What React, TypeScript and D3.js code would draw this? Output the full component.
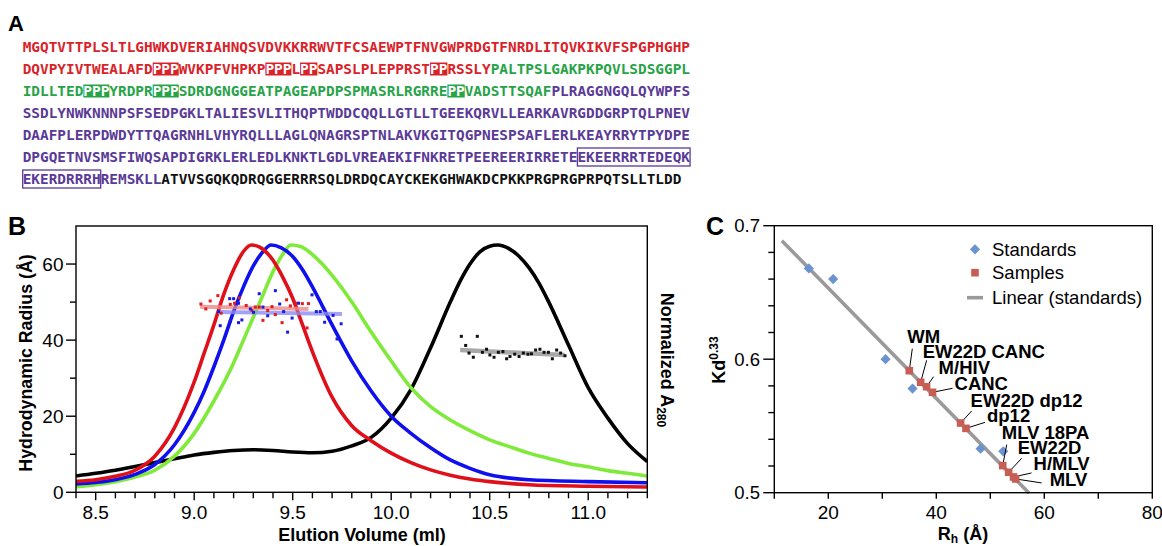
import React from 'react';
import * as d3 from 'd3';

// ---- Panel A: sequence (segments: text + style code) ----
// r/g/p/k = red/green/purple/black text, R/G = filled highlight, B = purple boxed
const seqLines: [string, string][][] = [
  [['MGQTVTTPLSLTLGHWKDVERIAHNQSVDVKKRRWVTFCSAEWPTFNVGWPRDGTFNRDLITQVKIKVFSPGPHGHP', 'r']],
  [['DQVPYIVTWEALAFD', 'r'], ['PPP', 'R'], ['WVKPFVHPKP', 'r'], ['PPP', 'R'], ['L', 'r'], ['PP', 'R'],
   ['SAPSLPLEPPRST', 'r'], ['PP', 'R'], ['RSSLY', 'r'], ['PALTPSLGAKPKPQVLSDSGGPL', 'g']],
  [['IDLLTED', 'g'], ['PPP', 'G'], ['YRDPR', 'g'], ['PPP', 'G'], ['SDRDGNGGEATPAGEAPDPSPMASRLRGRRE', 'g'],
   ['PP', 'G'], ['VADSTTSQAF', 'g'], ['PLRAGGNGQLQYWPFS', 'p']],
  [['SSDLYNWKNNNPSFSEDPGKLTALIESVLITHQPTWDDCQQLLGTLLTGEEKQRVLLEARKAVRGDDGRPTQLPNEV', 'p']],
  [['DAAFPLERPDWDYTTQAGRNHLVHYRQLLLAGLQNAGRSPTNLAKVKGITQGPNESPSAFLERLKEAYRRYTPYDPE', 'p']],
  [['DPGQETNVSMSFIWQSAPDIGRKLERLEDLKNKTLGDLVREAEKIFNKRETPEEREERIRRETE', 'p'], ['EKEERRRTEDEQK', 'B']],
  [['EKERDRRRH', 'B'], ['REMSKLL', 'p'], ['ATVVSGQKQDRQGGERRRSQLDRDQCAYCKEKGHWAKDCPKKPRGPRGPRPQTSLLTLDD', 'k']],
];

// ---- Panel B: elution profiles [ml, value] ----
const redCurve = [[8.4,2.9],[8.5,3.3],[8.6,4.2],[8.7,5.8],[8.8,9.5],[8.9,17],[9.0,29],[9.05,36.5],[9.1,44],[9.15,52],[9.2,58.5],[9.25,63.3],[9.29,65],[9.33,64.5],[9.4,61],[9.45,56.5],[9.5,51],[9.55,44],[9.6,37],[9.7,25],[9.8,17.5],[9.9,13.5],[10.0,10.3],[10.1,7.8],[10.2,5.9],[10.3,4.5],[10.4,3.5],[10.5,2.8],[10.7,2.0],[11.0,1.6],[11.3,1.4]];
const blueCurve = [[8.4,2.2],[8.5,2.6],[8.6,3.3],[8.7,4.7],[8.8,7.3],[8.9,12.5],[9.0,21],[9.05,26.5],[9.1,33],[9.15,40],[9.2,47.5],[9.25,54],[9.3,59.5],[9.35,63.3],[9.39,65],[9.44,64.3],[9.5,62],[9.55,58.5],[9.6,54],[9.7,44],[9.8,34.5],[9.9,26.5],[10.0,20],[10.1,15.5],[10.2,11.7],[10.3,8.5],[10.4,6.3],[10.5,4.6],[10.7,3.3],[11.0,2.8],[11.3,2.5]];
const greenCurve = [[8.4,1.5],[8.5,2.0],[8.6,2.8],[8.7,4.0],[8.8,5.8],[8.9,9.5],[9.0,15.5],[9.1,24],[9.2,34],[9.25,40],[9.3,46],[9.35,52],[9.4,58],[9.45,62.6],[9.49,65],[9.54,64.6],[9.6,62.5],[9.65,60],[9.7,57],[9.8,50],[9.9,42],[10.0,34.5],[10.1,27.5],[10.2,22.5],[10.3,19],[10.4,16.2],[10.5,13.8],[10.6,12],[10.7,10.3],[10.8,8.9],[10.9,7.6],[11.0,6.7],[11.1,5.7],[11.2,5.0],[11.3,4.3]];
const blackCurve = [[8.4,4.3],[8.5,5.0],[8.6,5.8],[8.7,6.8],[8.8,7.8],[8.9,8.8],[9.0,9.8],[9.1,10.5],[9.2,11.0],[9.3,11.2],[9.4,11.0],[9.5,10.6],[9.6,10.4],[9.7,10.8],[9.8,12.2],[9.9,14.5],[10.0,19.5],[10.1,27],[10.2,38],[10.3,50],[10.35,55.5],[10.4,60],[10.45,63.2],[10.5,64.7],[10.54,65],[10.6,64],[10.65,62],[10.7,59],[10.75,55],[10.8,50],[10.9,38.7],[11.0,27.5],[11.1,19.5],[11.2,12.8],[11.3,8.1]];

// radius points [ml, Å]
const redDots = [[9.034,49.5],[9.059,48.2],[9.081,50.3],[9.12,51.7],[9.137,47.1],[9.183,49.4],[9.205,49.7],[9.229,51.1],[9.264,49.1],[9.293,47.8],[9.31,48.7],[9.33,48.7],[9.349,45.2],[9.373,47.8],[9.395,48.8],[9.412,46.7],[9.446,44.6],[9.469,50.6],[9.488,49.0],[9.518,49.7],[9.549,49.6],[9.573,43.2],[9.58,49.6]];
const blueDots = [[9.124,47.5],[9.132,43.8],[9.18,50.9],[9.183,44.9],[9.2,50.9],[9.225,49.7],[9.225,44.6],[9.242,45.3],[9.285,48.2],[9.301,47.3],[9.33,52.2],[9.349,48.7],[9.373,46.4],[9.412,53.0],[9.434,49.5],[9.454,47.5],[9.474,42.1],[9.497,45.8],[9.53,49.7],[9.598,51.9],[9.62,47.5],[9.64,47.5],[9.662,44.7],[9.705,46.5],[9.725,40.3],[9.746,44.3]];
const blackDots = [[10.356,41.0],[10.378,38.6],[10.395,36.6],[10.417,35.5],[10.437,41.0],[10.463,36.8],[10.484,37.6],[10.501,36.1],[10.522,35.5],[10.544,36.8],[10.567,37.0],[10.586,35.1],[10.603,35.7],[10.627,36.3],[10.649,35.7],[10.671,36.6],[10.694,36.3],[10.712,36.4],[10.733,37.4],[10.755,37.6],[10.776,36.8],[10.798,36.8],[10.818,35.1],[10.84,37.4],[10.86,36.6],[10.882,35.9]];
const redFit = [[9.03,48.8],[9.58,48.2]];
const blueFit = [[9.12,47.4],[9.75,46.9]];
const blackFit = [[10.35,37.4],[10.88,36.1]];

const bMajorX = [8.5, 9.0, 9.5, 10.0, 10.5, 11.0];
const bMinorX = [8.4, 8.6, 8.7, 8.8, 8.9, 9.1, 9.2, 9.3, 9.4, 9.6, 9.7, 9.8, 9.9, 10.1, 10.2, 10.3, 10.4, 10.6, 10.7, 10.8, 10.9, 11.1, 11.2, 11.3];
const bMajorY = [0, 20, 40, 60];
const bMinorY = [10, 30, 50];

// ---- Panel C: calibration ----
const stdRh = [16.4, 20.9, 30.6, 35.6, 48.2, 52.4];
const stdKd = [0.668, 0.660, 0.600, 0.578, 0.533, 0.531];
const sampleNames = ['WM', 'EW22D CANC', 'M/HIV', 'CANC', 'EW22D dp12', 'dp12', 'MLV 18PA', 'EW22D', 'H/MLV', 'MLV'];
const sampleRh = [35.0, 37.1, 38.2, 39.3, 44.5, 45.5, 52.3, 53.4, 54.3, 54.7];
const sampleKd = [0.5914, 0.5827, 0.5794, 0.5752, 0.5522, 0.5482, 0.5203, 0.5153, 0.5118, 0.5103];
const fitRh = [11.4, 57.2];
const fitKd = [0.6888, 0.4996];
const cMajorX = [20, 40, 60, 80];
const cMinorX = [10, 30, 50, 70];
const cMajorY = [0.5, 0.6, 0.7];
const cMinorY = [0.52, 0.54, 0.56, 0.58, 0.62, 0.64, 0.66, 0.68];

// label placement relative to marker: [textDx, textDy, leaderDx, leaderDy]
const labelPlace = [
  [-2, -28, 3, -22], [2, -24, 6, -22], [12, -13, 7, -10], [22, -2, 20, -4], [10, -16, 11, -12],
  [21, -6, 19, -6], [-1, -27, 4, -21], [9, -18, 13, -14], [20, -7, 18, -4], [34, 7, 26, 4],
];

const SANS = "'Liberation Sans', Arial, Helvetica, sans-serif";
const MONO = "'DejaVu Sans Mono', 'Liberation Mono', monospace";
const colText: Record<string, string> = { r: '#d8232a', g: '#27a348', p: '#5a3a97', k: '#111' };

function SequencePanel() {
  const x0 = 22.7, cw = 8.667, base0 = 52, lh = 22;
  const out: React.ReactNode[] = [];
  seqLines.forEach((segs, li) => {
    const by = base0 + li * lh;
    let pos = 0;
    segs.forEach(([txt, st], si) => {
      const x = x0 + pos * cw;
      const w = txt.length * cw;
      let fill = colText[st.toLowerCase()] || '#111';
      if (st === 'R' || st === 'G') {
        out.push(<rect key={`b${li}-${si}`} x={x} y={by - 11.5} width={w} height={13} fill={colText[st.toLowerCase()]} />);
        fill = '#fff';
      }
      if (st === 'B') {
        fill = colText.p;
        out.push(<rect key={`o${li}-${si}`} x={x} y={by - 14} width={w} height={18} fill="none" stroke={colText.p} strokeWidth={1.3} />);
      }
      out.push(
        <text key={`t${li}-${si}`} x={x} y={by} fill={fill} fontFamily={MONO} fontWeight="bold" fontSize={14.4}
          textLength={w} lengthAdjust="spacingAndGlyphs">{txt}</text>
      );
      pos += txt.length;
    });
  });
  return <g>{out}</g>;
}

function ElutionPanel() {
  const L = 76, R = 647.3, T = 226, B = 492.3;
  const x = d3.scaleLinear().domain([8.4, 11.3]).range([L, R]);
  const y = d3.scaleLinear().domain([0, 70]).range([B, T]);
  const line = d3.line<number[]>().x(d => x(d[0])).y(d => y(d[1])).curve(d3.curveMonotoneX);
  const seg = d3.line<number[]>().x(d => x(d[0])).y(d => y(d[1]));
  const dots = (arr: number[][], c: string, k: string) =>
    arr.map((d, i) => <rect key={k + i} x={x(d[0]) - 1.5} y={y(d[1]) - 1.5} width={3} height={3} fill={c} />);
  return (
    <g fontFamily={SANS}>
      <clipPath id="bclip"><rect x={L} y={T} width={R - L} height={B - T} /></clipPath>
      <g clipPath="url(#bclip)">
        <path d={line(blackCurve) || ''} fill="none" stroke="#000" strokeWidth={3.6} />
        <path d={line(greenCurve) || ''} fill="none" stroke="#7fea3a" strokeWidth={3.6} />
        <path d={line(blueCurve) || ''} fill="none" stroke="#1010ee" strokeWidth={3.6} />
        <path d={line(redCurve) || ''} fill="none" stroke="#e0101a" strokeWidth={3.6} />
      </g>
      <path d={seg(redFit) || ''} stroke="#e88a8a" strokeOpacity={0.8} strokeWidth={4} />
      <path d={seg(blueFit) || ''} stroke="#8c8cf2" strokeOpacity={0.8} strokeWidth={4} />
      <path d={seg(blackFit) || ''} stroke="#a8a8a8" strokeWidth={4.5} />
      {dots(redDots, '#e41a1c', 'rd')}
      {dots(blueDots, '#1a1ae6', 'bd')}
      {dots(blackDots, '#111', 'kd')}
      <rect x={L} y={T} width={R - L} height={B - T} fill="none" stroke="#000" strokeWidth={1.4} />
      {bMajorX.map(v => <line key={'mx' + v} x1={x(v)} x2={x(v)} y1={B} y2={B + 8} stroke="#000" strokeWidth={1.4} />)}
      {bMinorX.map(v => <line key={'nx' + v} x1={x(v)} x2={x(v)} y1={B} y2={B + 6} stroke="#000" strokeWidth={1.4} />)}
      {bMajorY.map(v => <line key={'my' + v} x1={L - 10} x2={L} y1={y(v)} y2={y(v)} stroke="#000" strokeWidth={1.4} />)}
      {bMinorY.map(v => <line key={'ny' + v} x1={L - 6} x2={L} y1={y(v)} y2={y(v)} stroke="#000" strokeWidth={1.4} />)}
      {bMajorX.map(v => <text key={'lx' + v} x={x(v)} y={519} textAnchor="middle" fontSize={19}>{v.toFixed(1)}</text>)}
      {bMajorY.map(v => <text key={'ly' + v} x={63.5} y={y(v) + 6.8} textAnchor="end" fontSize={19}>{v}</text>)}
      <text x={362} y={541} textAnchor="middle" fontSize={18} fontWeight="bold">Elution Volume (ml)</text>
      <text transform="translate(32,363) rotate(-90)" textAnchor="middle" fontSize={17.8} fontWeight="bold">Hydrodynamic Radius (Å)</text>
      <text transform="translate(661,360) rotate(90)" textAnchor="middle" fontSize={18} fontWeight="bold">
        Normalized A<tspan fontSize={12} dy={4}>280</tspan>
      </text>
      <text x={8} y={235} fontSize={25} fontWeight="bold">B</text>
    </g>
  );
}

function CalibrationPanel() {
  const L = 774.3, R = 1152.3, T = 225.7, B = 492.7;
  const x = d3.scaleLinear().domain([10, 80]).range([L, R]);
  const y = d3.scaleLinear().domain([0.5, 0.7]).range([B, T]);
  const fit = d3.line<number>().x(d => x(fitRh[d])).y(d => y(fitKd[d]));
  const diamond = d3.symbol().type(d3.symbolDiamond2).size(66)() || '';
  return (
    <g fontFamily={SANS}>
      <path d={fit([0, 1]) || ''} stroke="#9a9a9a" strokeWidth={3.6} fill="none" />
      {stdRh.map((v, i) => (
        <path key={'s' + i} d={diamond} transform={`translate(${x(v)},${y(stdKd[i])})`} fill="#6a93d0" />
      ))}
      {sampleRh.map((v, i) => {
        const mx = x(v), my = y(sampleKd[i]);
        const p = labelPlace[i];
        return <line key={'p' + i} x1={mx} y1={my} x2={mx + p[2]} y2={my + p[3]} stroke="#000" strokeWidth={1} />;
      })}
      {sampleRh.map((v, i) => (
        <rect key={'q' + i} x={x(v) - 3.8} y={y(sampleKd[i]) - 3.8} width={7.6} height={7.6} fill="#c65e55" />
      ))}
      {sampleRh.map((v, i) => {
        const p = labelPlace[i];
        return (
          <text key={'t' + i} x={x(v) + p[0]} y={y(sampleKd[i]) + p[1]} fontSize={18.5} fontWeight="bold">{sampleNames[i]}</text>
        );
      })}
      <rect x={L} y={T} width={R - L} height={B - T} fill="none" stroke="#000" strokeWidth={1.4} />
      {cMajorX.map(v => <line key={'mx' + v} x1={x(v)} x2={x(v)} y1={B} y2={B + 6} stroke="#000" strokeWidth={1.4} />)}
      {cMinorX.map(v => <line key={'nx' + v} x1={x(v)} x2={x(v)} y1={B} y2={B + 6} stroke="#000" strokeWidth={1.4} />)}
      {cMajorY.map(v => <line key={'my' + v} x1={L - 11} x2={L} y1={y(v)} y2={y(v)} stroke="#000" strokeWidth={1.4} />)}
      {cMinorY.map(v => <line key={'ny' + v} x1={L - 6} x2={L} y1={y(v)} y2={y(v)} stroke="#000" strokeWidth={1.4} />)}
      {cMajorX.map(v => <text key={'lx' + v} x={x(v)} y={519} textAnchor="middle" fontSize={19}>{v}</text>)}
      {cMajorY.map(v => <text key={'ly' + v} x={760} y={y(v) + 6.5} textAnchor="end" fontSize={18.5}>{v.toFixed(1)}</text>)}
      <text x={963} y={540} textAnchor="middle" fontSize={18} fontWeight="bold">
        R<tspan fontSize={12} dy={3}>h</tspan><tspan dy={-3}> (Å)</tspan>
      </text>
      <text transform="translate(725,360) rotate(-90)" textAnchor="middle" fontSize={18} fontWeight="bold">
        Kd<tspan fontSize={12} dy={-7}>0.33</tspan>
      </text>
      <text x={706} y={235} fontSize={25} fontWeight="bold">C</text>
      {/* legend */}
      <path d={diamond} transform="translate(975,249.3)" fill="#6a93d0" />
      <rect x={971.2} y={268.9} width={7.6} height={7.6} fill="#c65e55" />
      <line x1={967} x2={983} y1={297.7} y2={297.7} stroke="#9a9a9a" strokeWidth={3.6} />
      <text x={992} y={255.5} fontSize={18.5}>Standards</text>
      <text x={992} y={279} fontSize={18.5}>Samples</text>
      <text x={992} y={304} fontSize={18.5}>Linear (standards)</text>
    </g>
  );
}

export default function App() {
  return (
    <svg width={1162} height={546} viewBox="0 0 1162 546"
      style={{ position: 'fixed', left: 0, top: 0, background: '#fff' }}>
      <rect width={1162} height={546} fill="#fff" />
      <text x={8} y={31} fontFamily={SANS} fontSize={22} fontWeight="bold">A</text>
      <SequencePanel />
      <ElutionPanel />
      <CalibrationPanel />
    </svg>
  );
}
